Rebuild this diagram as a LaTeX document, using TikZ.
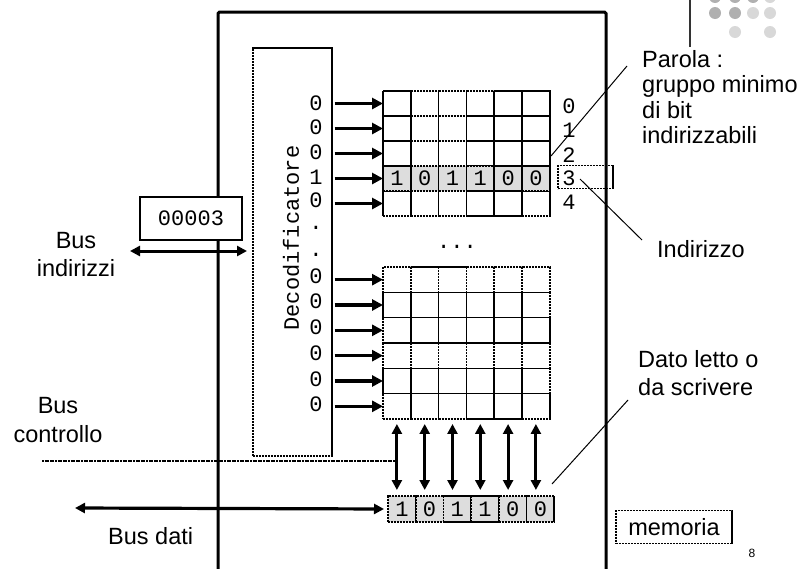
\documentclass[tikz,border=0pt]{standalone}
\usepackage{fontspec}
\setmainfont{Liberation Sans}
\newfontfamily\monof{Liberation Mono}
\usetikzlibrary{arrows.meta}
\definecolor{cellgray}{HTML}{DDDDDD}
\definecolor{dotdark}{HTML}{B0B0B0}
\definecolor{dotlight}{HTML}{D8D8D8}
\newcommand\lblfont{\fontsize{23.5}{25.5}\selectfont}
\newcommand\digfont{\monof\fontsize{22}{22}\selectfont}
\begin{document}
\begin{tikzpicture}[x=1pt,y=-1pt,
  dotline/.style={line width=1.6pt, dash pattern=on 2.4pt off 0.6pt},
  cell/.style={draw, dotline, minimum width=27.8pt, minimum height=#1,
    inner sep=0pt, outer sep=0pt, font=\digfont},
  cell/.default=25pt,
  digit/.style={inner sep=0pt, font=\digfont},
  lbl/.style={inner sep=0pt, font=\lblfont},
  fatarrow/.style={line width=3.2pt, -{Triangle[length=11pt,width=11pt]}},
  twoway/.style={line width=3pt,
    {Triangle[length=10pt,width=10pt]}-{Triangle[length=10pt,width=10pt]}},
  leader/.style={line width=1pt},
  logodot/.style={circle, inner sep=0pt, minimum size=12pt}]
\useasboundingbox (0,0) rectangle (808,568);

% slide decoration, top right
\draw[line width=1.3pt, black!80] (690,0) -- (690,47);
\foreach \x/\y/\c [count=\i] in {715/-3/dotdark, 735/-3/dotdark, 753/-3/dotdark, 770/-3/dotlight,
    715/13/dotdark, 735/13/dotdark, 753/13/dotlight, 770/13/dotlight,
    735/32/dotlight, 770/32/dotlight}
  \node[logodot, fill=\c] (logo\i) at (\x,\y) {};

% memory frame
\draw[line width=3pt, rounded corners=1.5pt] (218,575) -- (218,12) -- (606,12) -- (606,575);

% address decoder
\node[draw, dotline, minimum width=79pt, minimum height=408pt, inner sep=0pt,
  anchor=north west] (dec) at (252,47) {};
\node[digit, rotate=90] (declbl) at (291,238) {Decodificatore};

% upper block of words
\foreach \r in {0,1,2,4}
  \foreach \c in {1,...,6}
    \node[cell] (u-\r-\c) at ({383+27.8*(\c-0.5)},{91+25*(\r+0.5)}) {};
\foreach \c/\d in {1/1,2/0,3/1,4/1,5/0,6/0}
  \node[cell, fill=cellgray] (u-3-\c) at ({383+27.8*(\c-0.5)},{91+25*3.5}) {\d};

% lower block of words
\foreach \r in {0,...,5}
  \foreach \c in {1,...,6}
    \node[cell=25.33pt] (l-\r-\c) at ({383+27.8*(\c-0.5)},{267+25.33*(\r+0.5)}) {};

% data register
\foreach \c/\d in {1/1,2/0,3/1,4/1,5/0,6/0}
  \node[cell=26pt, minimum width=27.7pt, fill=cellgray] (d-\c) at ({388+27.7*(\c-0.5)},509) {\d};

% decoder outputs
\foreach \r/\y/\v in {0/103/0,1/127/0,2/152/0,3/177/1,4/200/0} {
  \node[digit] (uo-\r) at (316,\y) {\v};
  \draw[fatarrow] ([xshift=2pt]dec.east |- u-\r-1.west) -- (u-\r-1.west);
}
\foreach \r/\y in {0/276,1/301,2/327,3/353,4/379,5/404} {
  \node[digit] (lo-\r) at (316,\y) {0};
  \draw[fatarrow] ([xshift=2pt]dec.east |- l-\r-1.west) -- (l-\r-1.west);
}
\node[digit] (vdot1) at (316,228) {.};
\node[digit] (vdot2) at (316,255) {.};
\node[digit] (hdots) at (457,247) {...};

% word addresses
\foreach \r/\y in {0/106,1/130,2/155,3/178,4/202}
  \node[digit] (addr-\r) at (569,\y) {\r};
\node[draw, dotline, minimum width=55pt, minimum height=23pt, inner sep=0pt] (selbox) at (585.5,177) {};

% read / write paths between the lower block and the register
\foreach \c in {1,...,6}
  \draw[twoway, shorten <=5pt, shorten >=6pt] (l-5-\c.south) -- (l-5-\c.south |- d-1.north);

% address bus
\node[draw, fill=white, line width=1.4pt, minimum width=102pt, minimum height=43pt, inner sep=0pt,
  font=\digfont] (addrreg) at (191,218.5) {00003};
\coordinate (busaddrL) at (130,251);
\draw[twoway] (busaddrL) -- ([xshift=-5pt]dec.west |- busaddrL);
\node[lbl, align=center, anchor=north, font=\fontsize{23.5}{28}\selectfont] (busind) at (76,232) {Bus\\indirizzi};

% control bus
\coordinate (busctlL) at (42,461);
\coordinate (busctlR) at (395,461);
\draw[line width=1.1pt, dash pattern=on 2pt off 0.6pt] (busctlL) -- (busctlR);
\node[lbl, align=center, anchor=north, font=\fontsize{23.5}{29}\selectfont] (busctl) at (58,397) {Bus\\controllo};

% data bus
\coordinate (busdatL) at (75,508);
\draw[twoway, line width=3.2pt, shorten >=4pt] (busdatL) -- (d-1.west);
\node[lbl, anchor=north west] (busdati) at (108,527) {Bus dati};

% annotations
\coordinate (parolaA) at (551,156);
\coordinate (parolaB) at (627,66);
\draw[leader] (parolaA) -- (parolaB);
\node[lbl, align=left, anchor=north west] (parola) at (642,50)
  {Parola :\\gruppo minimo\\di bit\\indirizzabili};

\coordinate (indA) at (580,179);
\coordinate (indB) at (642,240);
\draw[leader] (indA) -- (indB);
\node[lbl, anchor=north west] (indir) at (657,240) {Indirizzo};

\coordinate (datoA) at (552,484);
\coordinate (datoB) at (628,400);
\draw[leader] (datoA) -- (datoB);
\node[lbl, align=left, anchor=north west, font=\fontsize{23.5}{28}\selectfont] (dato) at (638,350)
  {Dato letto o\\da scrivere};

\node[draw, dotline, minimum width=116pt, minimum height=33pt, inner sep=0pt,
  font=\lblfont] (memlbl) at (674,527) {memoria};
\node[inner sep=0pt, font=\fontsize{12}{12}\selectfont] (pagenum) at (752,553) {8};
\end{tikzpicture}
\end{document}
